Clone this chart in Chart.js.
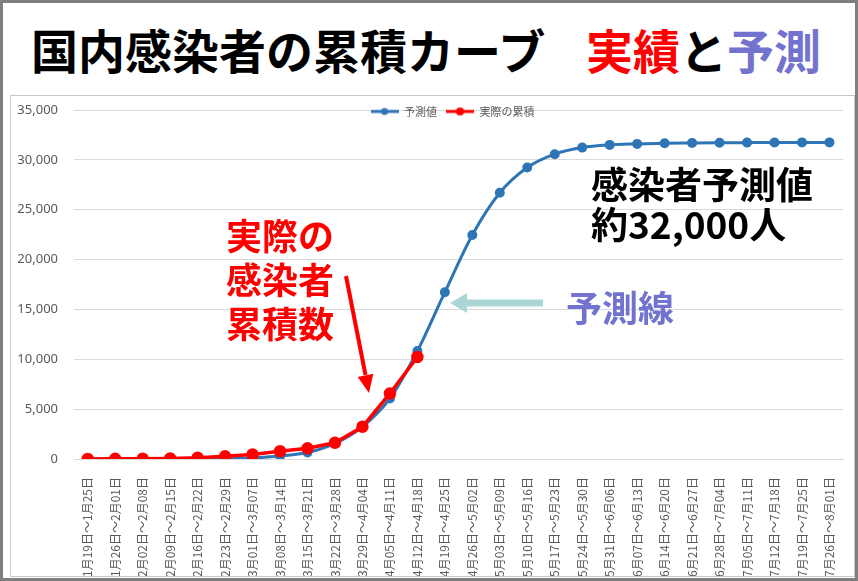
<!DOCTYPE html>
<html lang="ja">
<head>
<meta charset="UTF-8">
<title>国内感染者の累積カーブ</title>
<script src="https://cdn.jsdelivr.net/npm/chart.js"></script>
<style>
    body { margin: 0; background: #fff; }
    .frame {
        position: relative; width: 858px; height: 581px;
        border: 3px solid #7f7f7f; box-sizing: border-box; background: #fff;
        font-family: "Noto Sans CJK JP", sans-serif; overflow: hidden;
    }
    .box {
        position: absolute; left: 7px; top: 92px; width: 845px; height: 482px;
        border: 1px solid #c8c8c8; box-sizing: border-box;
    }
    .graph { position: absolute; left: 8px; top: 93px; width: 843px; height: 480px; }
    .txt { position: absolute; font-weight: 700; white-space: pre; }
    #titulo { left: 28px; top: 22px; font-size: 47px; line-height: 47px; color: #000; }
    #titulo2 { left: 583px; top: 22px; font-size: 47px; line-height: 47px; color: #000; }
    .vermelho { color: #ff0000; }
    .roxo { color: #7272cf; }
    #notaReal { left: 223px; top: 209px; font-size: 36px; line-height: 44px; color: #ff0000; }
    #notaPrev { left: 588px; top: 160px; font-size: 37px; line-height: 40px; color: #000; }
    #notaLinha { left: 563px; top: 285px; font-size: 36px; line-height: 36px; color: #7272cf; }
    svg.setas { position: absolute; left: -3px; top: -3px; pointer-events: none; }
</style>
</head>
<body>
<div class="frame">
    <div class="txt" id="titulo">国内感染者の累積カーブ</div>
    <div class="txt" id="titulo2"><span class="vermelho">実績</span>と<span class="roxo">予測</span></div>
    <div class="box"></div>
    <div class="graph"><canvas id="myChartCanvas"></canvas></div>
    <div class="txt" id="notaReal">実際の
感染者
累積数</div>
    <div class="txt" id="notaPrev">感染者予測値
約32,000人</div>
    <div class="txt" id="notaLinha">予測線</div>
    <svg class="setas" width="858" height="581">
        <!-- seta vermelha -->
        <line x1="346" y1="276" x2="365.5" y2="375" stroke="#ff0000" stroke-width="4"/>
        <polygon points="369,393 373.3,373.7 357.7,376.9" fill="#ff0000"/>
        <!-- seta azul clara -->
        <line x1="543" y1="303" x2="466" y2="303" stroke="#aad6d6" stroke-width="7"/>
        <polygon points="450,303 467,293 467,313" fill="#aad6d6"/>
    </svg>
</div>

<script>
    // semanas (eixo x)
    const semanas = [
        '1月19日～1月25日', '1月26日～2月01日', '2月02日～2月08日', '2月09日～2月15日',
        '2月16日～2月22日', '2月23日～2月29日', '3月01日～3月07日', '3月08日～3月14日',
        '3月15日～3月21日', '3月22日～3月28日', '3月29日～4月04日', '4月05日～4月11日',
        '4月12日～4月18日', '4月19日～4月25日', '4月26日～5月02日', '5月03日～5月09日',
        '5月10日～5月16日', '5月17日～5月23日', '5月24日～5月30日', '5月31日～6月06日',
        '6月07日～6月13日', '6月14日～6月20日', '6月21日～6月27日', '6月28日～7月04日',
        '7月05日～7月11日', '7月12日～7月18日', '7月19日～7月25日', '7月26日～8月01日'
    ];

    // 予測値
    const previsto = [
        0, 0, 0, 0, 10, 20, 100, 300, 650, 1570, 3230, 6070, 10830, 16730,
        22470, 26700, 29230, 30570, 31230, 31500, 31600, 31670, 31700, 31720,
        31730, 31740, 31750, 31750
    ];

    // 実際の累積
    const real = [0, 20, 25, 60, 130, 270, 450, 780, 1070, 1630, 3230, 6570, 10230];

    const ticksY = [0, 5000, 10000, 15000, 20000, 25000, 30000, 35000];

    const corAzul = '#2e75b6';
    const corVermelha = '#ff0000';

    // marcador da legenda no estilo linha + ponto
    function marcador(cor, raio) {
        const c = document.createElement('canvas');
        c.width = 28; c.height = 10;
        const g = c.getContext('2d');
        g.strokeStyle = cor; g.lineWidth = 3;
        g.beginPath(); g.moveTo(0, 5); g.lineTo(28, 5); g.stroke();
        g.fillStyle = cor;
        g.beginPath(); g.arc(14, 5, raio, 0, Math.PI * 2); g.fill();
        return c;
    }
    const marcadores = [marcador(corAzul, 3.5), marcador(corVermelha, 4)];

    // legenda flutuando sobre a área do gráfico (como no Excel)
    const legendaFlutuante = {
        id: 'legendaFlutuante',
        beforeLayout(chart) {
            const lg = chart.legend;
            if (lg && !lg._patched) {
                const fit = lg.fit;
                lg.fit = function () { fit.call(this); this.height = 0; };
                lg._patched = true;
            }
        },
        afterLayout(chart) {
            const lg = chart.legend;
            lg.left += 20; lg.right += 20;
            lg.top = 1; lg.bottom = 32;
        }
    };

    Chart.defaults.font.family = "'Noto Sans CJK JP', sans-serif";

    const config = {
        type: 'line',
        data: {
            labels: semanas,
            datasets: [{
                label: '予測値',
                data: previsto,
                borderColor: corAzul,
                backgroundColor: corAzul,
                pointBackgroundColor: corAzul,
                borderWidth: 3,
                pointRadius: 3.5,
                cubicInterpolationMode: 'monotone',
                order: 1
            }, {
                label: '実際の累積',
                data: real,
                borderColor: corVermelha,
                backgroundColor: corVermelha,
                pointBackgroundColor: corVermelha,
                borderWidth: 3.5,
                pointRadius: 4.5,
                order: 0
            }]
        },
        options: {
            responsive: true,
            maintainAspectRatio: false,
            animation: false,
            layout: { padding: { top: 14, right: 0, bottom: 0, left: 0 } },
            elements: { point: { borderWidth: 0 } },
            plugins: {
                legend: {
                    position: 'top',
                    labels: {
                        usePointStyle: true,
                        pointStyleWidth: 28,
                        color: '#595959',
                        font: { size: 11 },
                        padding: 9,
                        sort: (a, b) => a.datasetIndex - b.datasetIndex,
                        generateLabels: (chart) => {
                            const itens = Chart.defaults.plugins.legend.labels.generateLabels(chart);
                            itens.forEach(it => { it.pointStyle = marcadores[it.datasetIndex]; });
                            return itens;
                        }
                    }
                },
                tooltip: { enabled: false }
            },
            scales: {
                x: {
                    offset: true,
                    afterFit: (s) => { s.height = 117; },
                    grid: { display: false },
                    border: { color: '#d9d9d9' },
                    ticks: {
                        autoSkip: false,
                        minRotation: 90,
                        maxRotation: 90,
                        padding: 10,
                        color: '#595959',
                        font: { size: 12 }
                    }
                },
                y: {
                    min: 0,
                    max: 35000,
                    afterFit: (s) => { s.width = 63; },
                    afterBuildTicks: (s) => { s.ticks = ticksY.map(v => ({ value: v })); },
                    border: { display: false },
                    grid: { color: '#d9d9d9', tickLength: 14, tickColor: 'rgba(0,0,0,0)' },
                    ticks: {
                        padding: 2,
                        color: '#595959',
                        font: { family: "'Noto Sans', sans-serif", size: 13 },
                        callback: (v) => v.toLocaleString('en-US')
                    }
                }
            }
        },
        plugins: [legendaFlutuante]
    };

    let myChart = new Chart(document.getElementById('myChartCanvas'), config);
</script>
</body>
</html>
